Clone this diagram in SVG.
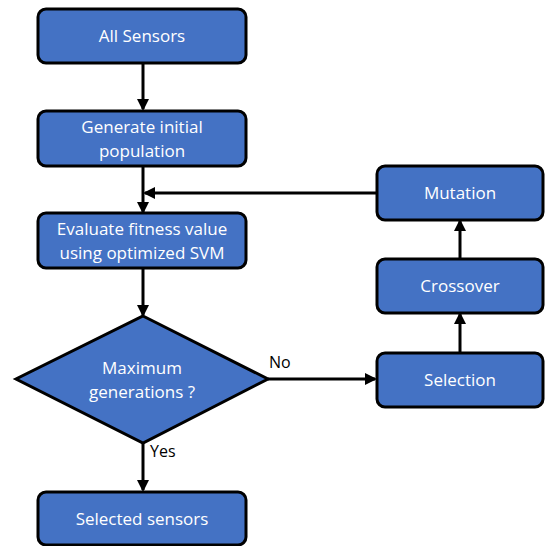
<svg xmlns="http://www.w3.org/2000/svg" width="547" height="546" viewBox="0 0 547 546">
<style>
.box{fill:#4472C4;stroke:#000;stroke-width:3}
.t{font-family:"Open Sans","Noto Sans",sans-serif;font-size:17px;fill:#fff;text-anchor:middle}
.lbl{font-family:"Open Sans","Noto Sans",sans-serif;font-size:16px;fill:#000}
.c{stroke:#000;stroke-width:3;fill:none}
</style>
<defs>
<marker id="ah" markerWidth="12" markerHeight="12" refX="10" refY="6" orient="auto" markerUnits="userSpaceOnUse" viewBox="0 0 12 12">
<path d="M0,0 L12,6 L0,12 z" fill="#000"/>
</marker>
</defs>
<rect width="547" height="546" fill="#fff"/>
<g id="connectors">
<line class="c" x1="143" y1="63" x2="143" y2="109" marker-end="url(#ah)"/>
<line class="c" x1="143" y1="166" x2="143" y2="212" marker-end="url(#ah)"/>
<line class="c" x1="376" y1="193" x2="145" y2="193" marker-end="url(#ah)"/>
<line class="c" x1="143" y1="268" x2="143" y2="315" marker-end="url(#ah)"/>
<line class="c" x1="268" y1="379" x2="375" y2="379" marker-end="url(#ah)"/>
<line class="c" x1="460" y1="352" x2="460" y2="314" marker-end="url(#ah)"/>
<line class="c" x1="460" y1="258" x2="460" y2="221" marker-end="url(#ah)"/>
<line class="c" x1="143" y1="443" x2="143" y2="490" marker-end="url(#ah)"/>
<text class="lbl" x="269" y="368">No</text>
<text class="lbl" x="150" y="457">Yes</text>
</g>
<g id="all-sensors">
<rect class="box" x="38" y="9" width="208" height="54" rx="8"/>
<text class="t" x="142" y="42">All Sensors</text>
</g>
<g id="generate">
<rect class="box" x="38" y="111" width="208" height="55" rx="8"/>
<text class="t" x="142" y="133">Generate initial</text>
<text class="t" x="142" y="157">population</text>
</g>
<g id="evaluate">
<rect class="box" x="38" y="213" width="208" height="55" rx="8"/>
<text class="t" x="142" y="235">Evaluate fitness value</text>
<text class="t" x="142" y="259">using optimized SVM</text>
</g>
<g id="decision">
<polygon class="box" points="143,316 268,379 143,443 16,379"/>
<text class="t" x="142" y="374">Maximum</text>
<text class="t" x="142" y="398">generations ?</text>
</g>
<g id="selected">
<rect class="box" x="38" y="492" width="208" height="53" rx="8"/>
<text class="t" x="142" y="525">Selected sensors</text>
</g>
<g id="selection">
<rect class="box" x="377" y="353" width="166" height="54" rx="8"/>
<text class="t" x="460" y="386">Selection</text>
</g>
<g id="crossover">
<rect class="box" x="377" y="259" width="166" height="54" rx="8"/>
<text class="t" x="460" y="292">Crossover</text>
</g>
<g id="mutation">
<rect class="box" x="377" y="166" width="166" height="54" rx="8"/>
<text class="t" x="460" y="199">Mutation</text>
</g>
</svg>
